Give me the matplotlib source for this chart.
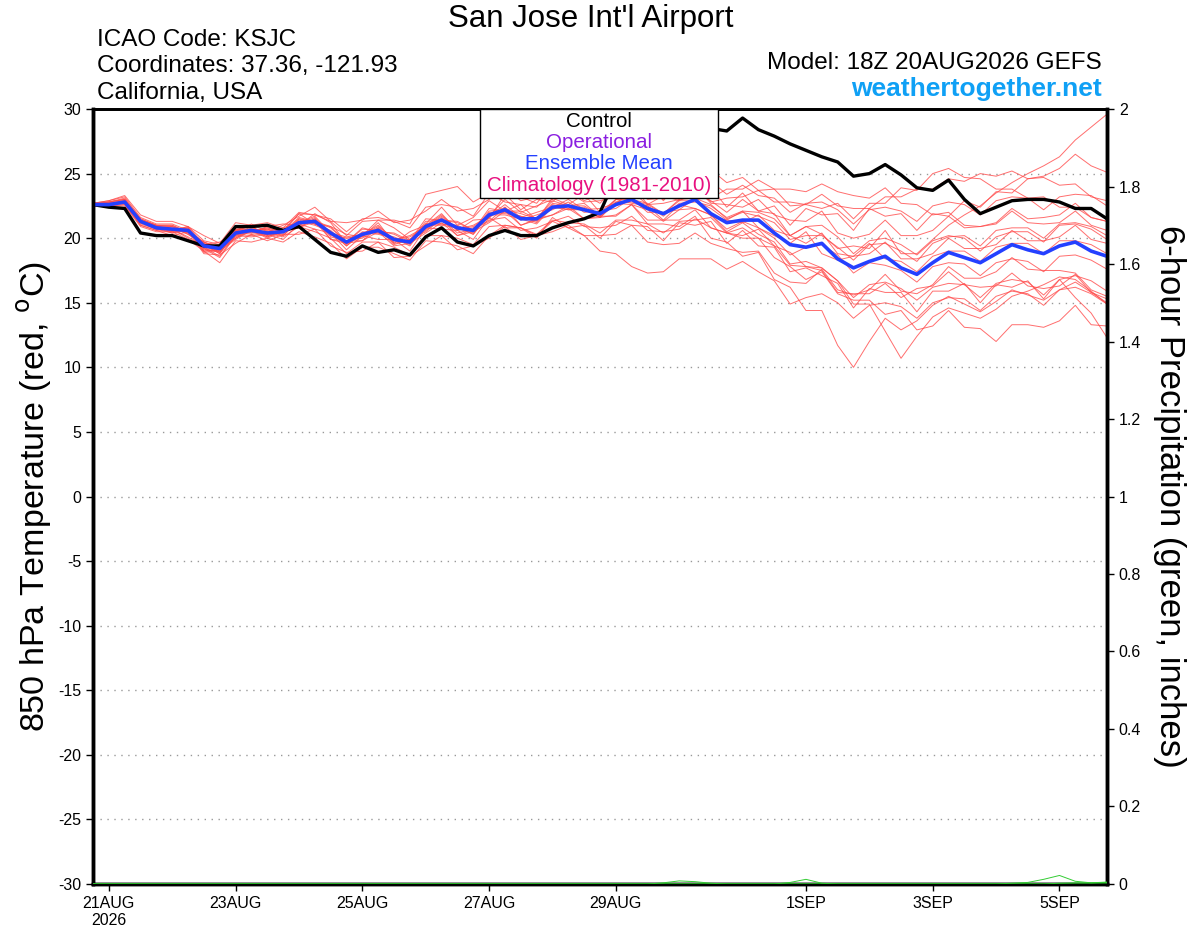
import matplotlib
matplotlib.use("Agg")
from matplotlib import pyplot as plt
from matplotlib.patches import Rectangle
import numpy as np
import pandas as pd

plt.rcParams['font.family'] = ['Liberation Sans', 'DejaVu Sans']

# forecast times, 6-hourly from 18Z 20AUG2026
times = pd.date_range('2026-08-20 18:00', periods=65, freq='6h')

tick_dates = pd.to_datetime(['2026-08-21', '2026-08-23', '2026-08-25', '2026-08-27',
                             '2026-08-29', '2026-09-01', '2026-09-03', '2026-09-05'])
tick_labels = ['21AUG\n2026', '23AUG', '25AUG', '27AUG', '29AUG', '1SEP', '3SEP', '5SEP']

temp_ticks = [30, 25, 20, 15, 10, 5, 0, -5, -10, -15, -20, -25, -30]
precip_ticks = [0, 0.2, 0.4, 0.6, 0.8, 1, 1.2, 1.4, 1.6, 1.8, 2]
precip_labels = ['0', '0.2', '0.4', '0.6', '0.8', '1', '1.2', '1.4', '1.6', '1.8', '2']

# control run (black)
control = [22.6, 22.4, 22.3, 20.4, 20.2, 20.2, 19.8, 19.4, 19.4, 20.9, 20.9, 21.0, 20.6,
           20.9, 19.9, 18.9, 18.6, 19.4, 18.9, 19.1, 18.7, 20.1, 20.8, 19.7, 19.4, 20.2,
           20.6, 20.2, 20.2, 20.8, 21.2, 21.5, 22.0, 24.7, 26.0, 26.8, 27.5, 28.0, 28.4,
           28.5, 28.3, 29.3, 28.4, 27.9, 27.3, 26.8, 26.3, 25.9, 24.8, 25.0, 25.7, 24.9,
           23.9, 23.7, 24.5, 23.0, 21.9, 22.4, 22.9, 23.0, 23.0, 22.8, 22.3, 22.3, 21.5]

# ensemble mean (blue)
ens_mean = [22.6, 22.6, 22.8, 21.3, 20.8, 20.7, 20.6, 19.4, 19.2, 20.4, 20.6, 20.4, 20.5,
            21.2, 21.3, 20.4, 19.7, 20.3, 20.6, 19.9, 19.7, 20.9, 21.4, 20.8, 20.6, 21.8,
            22.2, 21.5, 21.5, 22.4, 22.5, 22.2, 21.9, 22.6, 23.0, 22.3, 21.9, 22.5, 23.0,
            21.9, 21.2, 21.4, 21.4, 20.4, 19.5, 19.3, 19.6, 18.4, 17.7, 18.2, 18.6, 17.7,
            17.2, 18.1, 18.9, 18.5, 18.1, 18.8, 19.5, 19.1, 18.8, 19.4, 19.7, 19.0, 18.6]

# ensemble members (red)
member_01 = [22.6, 22.8, 23.1, 21.5, 21.0, 20.6, 20.9, 19.8, 19.5, 20.9, 20.4, 20.9, 21.1,
             21.0, 21.9, 21.2, 19.6, 20.2, 21.4, 20.8, 19.9, 21.1, 22.4, 21.0, 21.6, 22.9,
             22.1, 22.6, 21.4, 23.1, 22.6, 23.4, 22.0, 23.0, 24.2, 22.6, 23.3, 22.9, 23.5,
             22.9, 22.0, 23.0, 22.1, 21.9, 20.2, 20.9, 20.3, 19.2, 19.4, 19.2, 20.6, 18.8,
             18.8, 19.9, 21.0, 21.8, 22.5, 23.5, 24.3, 25.0, 25.6, 26.3, 27.6, 28.6, 29.6]
member_02 = [22.5, 22.7, 22.9, 21.4, 21.0, 20.9, 20.3, 19.6, 18.9, 20.6, 20.9, 20.2, 20.6,
             21.9, 21.1, 20.9, 20.3, 20.1, 21.2, 19.6, 20.5, 21.0, 21.9, 20.6, 21.4, 21.5,
             23.4, 22.2, 23.0, 22.8, 24.0, 22.9, 23.4, 23.5, 24.6, 24.3, 22.9, 24.3, 24.0,
             23.9, 22.4, 23.5, 22.1, 22.5, 21.0, 22.3, 21.8, 21.9, 20.6, 22.3, 21.7, 21.9,
             20.6, 21.9, 21.7, 22.9, 22.4, 23.6, 23.5, 24.6, 24.8, 25.4, 26.5, 25.6, 25.1]
member_03 = [22.6, 22.5, 22.6, 21.0, 20.6, 20.7, 20.0, 19.2, 18.5, 20.2, 20.1, 20.3, 19.9,
             21.1, 20.7, 20.4, 19.1, 20.2, 19.9, 19.9, 19.0, 20.8, 20.7, 20.6, 19.9, 21.6,
             20.8, 20.8, 20.0, 21.6, 20.8, 21.0, 20.0, 21.3, 21.0, 20.9, 19.8, 21.2, 21.0,
             21.3, 19.6, 20.6, 19.4, 19.3, 17.4, 17.7, 17.1, 16.5, 14.6, 16.1, 15.8, 15.8,
             14.3, 15.9, 15.9, 16.5, 15.0, 16.4, 16.2, 16.7, 15.3, 16.8, 15.4, 14.2, 12.3]
member_04 = [22.5, 22.6, 22.8, 21.2, 20.8, 20.5, 20.7, 19.0, 19.1, 20.0, 20.7, 20.1, 20.6,
             20.8, 21.5, 19.9, 19.8, 19.8, 20.8, 19.5, 19.9, 20.5, 21.5, 20.2, 20.7, 21.3,
             22.4, 21.0, 21.5, 21.8, 22.5, 21.5, 21.7, 21.7, 22.6, 21.1, 21.1, 20.9, 21.7,
             20.0, 19.7, 18.6, 18.9, 16.8, 16.2, 14.4, 14.4, 11.7, 10.0, 12.0, 13.8, 12.9,
             13.6, 14.8, 15.5, 14.9, 14.3, 15.1, 16.0, 15.6, 15.2, 16.0, 16.6, 15.8, 15.0]
member_05 = [22.7, 22.9, 23.2, 21.6, 21.1, 21.1, 20.6, 19.7, 19.3, 20.8, 20.6, 20.8, 20.5,
             21.6, 21.3, 20.9, 19.7, 20.8, 20.5, 20.4, 19.8, 21.5, 21.4, 21.3, 20.6, 22.3,
             22.1, 22.1, 21.5, 22.9, 22.5, 22.7, 21.7, 23.0, 22.7, 22.5, 21.4, 22.6, 22.3,
             21.8, 20.5, 21.2, 20.3, 19.7, 18.0, 18.2, 17.7, 16.7, 14.9, 14.9, 12.8, 10.7,
             12.4, 13.9, 14.6, 14.2, 13.8, 14.5, 15.5, 15.9, 16.4, 17.0, 16.8, 15.9, 14.9]
member_06 = [22.6, 22.7, 22.9, 21.5, 21.0, 21.0, 20.5, 19.7, 19.2, 20.7, 20.5, 20.8, 20.5,
             21.9, 21.8, 21.5, 20.5, 21.5, 21.6, 21.3, 20.8, 22.4, 22.6, 22.4, 21.7, 23.5,
             23.4, 23.2, 22.7, 24.2, 23.9, 24.2, 23.3, 24.6, 24.5, 24.4, 23.6, 24.8, 24.9,
             25.3, 24.3, 24.7, 23.7, 23.8, 22.5, 22.6, 22.3, 22.7, 21.5, 22.7, 22.7, 23.9,
             23.7, 25.0, 25.4, 24.7, 24.6, 23.8, 23.8, 23.1, 23.2, 22.4, 22.4, 21.6, 21.3]
member_07 = [22.5, 22.6, 22.7, 21.3, 20.9, 20.5, 20.8, 19.2, 19.3, 20.2, 20.8, 20.3, 20.7,
             21.1, 21.6, 20.3, 20.0, 20.2, 20.9, 19.9, 20.1, 20.8, 21.7, 20.7, 20.9, 21.7,
             23.0, 22.0, 22.5, 23.0, 23.6, 22.8, 22.9, 23.2, 24.0, 23.0, 23.1, 23.3, 24.2,
             22.8, 23.1, 23.2, 23.7, 22.8, 22.8, 22.6, 23.4, 22.5, 22.3, 22.3, 23.2, 23.2,
             23.8, 23.8, 24.6, 24.4, 25.0, 24.8, 25.2, 24.6, 24.7, 24.1, 24.2, 23.2, 22.9]
member_08 = [22.6, 22.6, 22.7, 21.1, 20.7, 20.7, 20.1, 19.3, 18.6, 20.3, 20.2, 20.4, 20.1,
             20.9, 20.5, 20.0, 18.8, 19.7, 19.7, 19.3, 18.7, 20.2, 20.2, 20.0, 19.5, 20.9,
             21.0, 20.8, 20.3, 21.4, 21.2, 21.1, 20.4, 21.4, 21.4, 21.1, 20.4, 21.3, 21.4,
             21.6, 20.4, 20.8, 20.0, 19.4, 17.9, 17.8, 17.7, 16.7, 15.4, 16.4, 16.6, 16.1,
             15.2, 16.2, 16.5, 16.4, 15.4, 16.5, 16.8, 16.6, 15.6, 16.8, 17.1, 16.7, 15.9]
member_09 = [22.6, 22.7, 22.8, 21.3, 20.8, 20.9, 20.4, 19.5, 18.8, 20.5, 20.4, 20.6, 20.2,
             21.4, 21.1, 20.6, 19.5, 20.5, 20.4, 20.1, 19.6, 21.1, 21.1, 21.0, 20.4, 22.0,
             22.0, 21.7, 21.3, 22.6, 22.3, 22.4, 21.7, 22.8, 22.8, 22.5, 21.7, 22.7, 22.8,
             22.5, 21.6, 22.1, 20.8, 20.2, 19.6, 20.5, 18.8, 18.3, 18.6, 19.6, 18.4, 18.2,
             17.4, 18.6, 19.0, 19.0, 18.2, 19.3, 19.6, 19.6, 18.8, 19.8, 19.8, 19.5, 18.8]
member_10 = [22.7, 22.8, 23.0, 21.4, 20.9, 20.6, 20.9, 19.5, 19.7, 20.5, 21.1, 20.5, 21.0,
             21.7, 22.4, 21.3, 21.2, 21.4, 22.1, 21.2, 21.4, 22.1, 23.0, 22.1, 22.3, 23.0,
             23.9, 22.9, 23.2, 23.6, 24.2, 23.4, 23.5, 23.6, 24.3, 23.2, 23.2, 23.3, 24.0,
             22.7, 22.6, 22.4, 23.0, 21.8, 21.4, 21.3, 22.1, 20.4, 20.0, 20.3, 21.4, 20.2,
             20.2, 20.6, 21.7, 20.8, 20.9, 21.2, 22.3, 21.5, 21.6, 21.8, 22.7, 21.6, 21.3]
member_11 = [22.5, 22.5, 22.6, 21.0, 20.6, 20.2, 20.5, 18.8, 18.7, 19.6, 20.3, 19.8, 20.3,
             20.3, 20.7, 19.4, 18.9, 19.0, 19.7, 18.5, 18.6, 19.4, 20.2, 19.1, 19.4, 20.0,
             20.9, 19.9, 20.2, 20.5, 21.0, 20.2, 20.2, 20.3, 21.0, 19.7, 19.5, 19.6, 20.4,
             19.6, 19.2, 18.9, 19.0, 17.3, 16.6, 16.5, 17.6, 16.0, 15.6, 16.0, 17.2, 15.9,
             15.7, 16.4, 17.8, 16.9, 16.9, 17.4, 18.5, 17.6, 17.5, 17.5, 17.3, 16.0, 15.5]
member_12 = [22.6, 22.8, 23.0, 21.4, 21.0, 21.0, 20.4, 19.7, 19.0, 20.7, 20.5, 20.7, 20.3,
             21.5, 21.3, 20.8, 19.7, 20.7, 20.6, 20.3, 19.7, 21.3, 21.4, 21.2, 20.6, 22.1,
             22.2, 21.9, 21.5, 22.7, 22.5, 22.5, 21.8, 23.0, 23.0, 22.7, 21.9, 23.0, 23.1,
             22.6, 21.5, 22.0, 21.7, 21.2, 19.9, 20.2, 20.2, 19.3, 18.3, 19.5, 19.6, 19.0,
             18.2, 19.6, 20.1, 20.2, 19.4, 20.6, 20.8, 20.8, 20.0, 21.1, 21.2, 20.9, 20.2]
member_13 = [22.6, 22.6, 22.7, 21.2, 20.7, 20.4, 20.6, 19.0, 19.1, 20.0, 20.6, 20.1, 20.5,
             20.9, 21.4, 20.1, 19.8, 20.0, 20.7, 19.6, 19.8, 20.6, 21.5, 20.4, 20.7, 21.4,
             21.6, 20.6, 20.8, 21.3, 21.7, 20.9, 20.8, 21.0, 21.7, 20.6, 20.5, 20.7, 21.5,
             20.8, 20.4, 20.0, 20.0, 18.5, 17.8, 16.8, 17.4, 15.7, 15.2, 15.2, 14.1, 14.4,
             12.9, 13.2, 14.4, 13.1, 13.0, 12.0, 13.3, 13.3, 13.1, 13.6, 14.8, 13.3, 13.2]
member_14 = [22.5, 22.7, 22.9, 21.4, 20.9, 20.9, 20.5, 19.6, 18.9, 20.6, 20.5, 20.7, 20.4,
             21.5, 21.1, 20.5, 19.4, 20.4, 20.4, 20.0, 19.4, 21.0, 21.0, 20.8, 20.3, 21.8,
             21.8, 21.5, 21.1, 22.4, 22.2, 22.2, 21.6, 22.8, 22.9, 22.6, 21.9, 22.9, 22.9,
             22.3, 21.4, 22.1, 22.0, 21.5, 20.2, 20.9, 21.0, 20.1, 18.8, 19.8, 20.0, 19.5,
             18.7, 19.8, 20.2, 20.0, 19.0, 20.1, 20.5, 20.5, 19.7, 21.0, 21.1, 20.7, 19.9]
member_15 = [22.6, 22.7, 22.8, 21.2, 20.8, 20.4, 20.7, 18.9, 19.0, 19.9, 20.6, 20.0, 20.5,
             20.8, 21.3, 19.9, 19.6, 19.8, 20.5, 19.4, 19.6, 20.4, 21.2, 20.2, 20.5, 21.2,
             22.1, 21.0, 21.4, 21.8, 22.3, 21.5, 21.6, 21.8, 22.6, 21.4, 21.4, 21.4, 22.2,
             20.8, 20.4, 20.2, 20.7, 19.4, 18.9, 17.8, 17.5, 15.8, 15.7, 15.7, 16.5, 15.4,
             16.1, 16.3, 17.4, 16.4, 16.2, 16.3, 17.3, 16.3, 16.1, 16.3, 17.2, 15.8, 15.3]
member_16 = [22.7, 22.9, 23.3, 21.8, 21.3, 21.3, 20.9, 20.2, 19.6, 21.2, 21.0, 21.2, 20.8,
             22.0, 21.8, 21.3, 20.2, 21.3, 21.4, 21.4, 21.1, 23.4, 23.7, 24.0, 22.8, 23.5,
             22.8, 22.6, 22.4, 23.5, 23.4, 23.4, 22.7, 24.0, 24.0, 23.7, 23.0, 24.1, 24.4,
             24.4, 23.4, 24.1, 23.3, 23.1, 22.0, 22.7, 22.8, 22.2, 21.1, 22.2, 22.4, 22.1,
             21.3, 22.5, 22.8, 22.6, 21.8, 22.9, 23.2, 23.1, 22.2, 23.2, 23.4, 23.3, 22.5]
member_17 = [22.5, 22.5, 22.5, 20.9, 20.5, 20.5, 19.9, 19.0, 18.1, 19.8, 19.7, 20.0, 19.7,
             20.5, 20.1, 19.6, 18.4, 19.3, 19.3, 18.8, 18.3, 19.8, 19.7, 19.4, 18.8, 20.2,
             21.0, 20.8, 20.2, 21.3, 20.8, 20.2, 19.0, 18.8, 17.8, 17.3, 17.4, 18.4, 18.4,
             18.4, 17.6, 18.2, 17.4, 16.7, 14.9, 15.4, 15.7, 15.0, 13.8, 14.8, 15.0, 14.7,
             13.8, 15.0, 15.4, 15.3, 14.4, 15.5, 15.9, 15.7, 14.8, 16.0, 16.2, 15.7, 14.9]
member_18 = [22.6, 22.8, 23.0, 21.4, 20.9, 20.6, 20.8, 19.3, 19.5, 20.3, 20.9, 20.3, 20.8,
             21.2, 21.7, 20.4, 20.1, 20.3, 21.0, 19.9, 20.2, 20.9, 21.8, 20.7, 21.0, 21.7,
             22.6, 21.6, 22.0, 22.4, 23.0, 22.2, 22.3, 22.7, 23.6, 22.6, 22.7, 23.0, 24.0,
             23.1, 23.8, 23.8, 24.5, 23.8, 23.8, 23.6, 24.2, 23.6, 23.3, 23.1, 23.9, 22.7,
             22.6, 21.8, 22.0, 21.0, 20.9, 21.1, 22.1, 21.2, 21.1, 21.2, 22.1, 21.0, 20.6]
member_19 = [22.6, 22.6, 22.7, 21.2, 20.8, 20.8, 20.3, 19.5, 18.8, 20.5, 20.3, 20.5, 20.2,
             21.3, 21.0, 20.5, 19.4, 20.4, 20.3, 20.0, 19.5, 21.1, 21.1, 20.9, 20.3, 21.9,
             21.9, 21.7, 21.2, 22.5, 22.2, 22.3, 21.6, 22.7, 22.6, 22.2, 21.3, 22.2, 22.3,
             21.8, 20.7, 21.3, 20.8, 20.0, 18.7, 19.3, 19.5, 18.7, 17.3, 18.1, 17.9, 17.5,
             16.6, 17.8, 18.1, 18.0, 17.1, 18.1, 18.4, 18.2, 17.4, 18.6, 18.7, 18.3, 17.6]
member_20 = [22.5, 22.6, 22.8, 21.3, 20.9, 20.6, 20.8, 19.1, 19.2, 20.1, 20.7, 20.2, 20.6,
             21.0, 21.5, 20.2, 20.0, 20.1, 20.8, 19.7, 19.9, 20.7, 21.6, 20.6, 20.8, 21.6,
             22.4, 21.4, 21.8, 22.2, 22.8, 22.0, 22.1, 22.3, 23.1, 22.0, 22.0, 22.2, 23.1,
             21.7, 21.4, 21.2, 21.8, 20.6, 20.2, 19.6, 20.4, 18.8, 18.6, 18.8, 19.7, 18.4,
             18.4, 18.8, 20.0, 19.2, 19.2, 19.5, 20.6, 19.8, 19.8, 20.1, 21.0, 19.9, 19.6]

members = [member_01, member_02, member_03, member_04, member_05, member_06, member_07,
           member_08, member_09, member_10, member_11, member_12, member_13, member_14,
           member_15, member_16, member_17, member_18, member_19, member_20]

# 6-hour precipitation of a few members (green, inches)
precip_a = [0, 0, 0, 0, 0, 0, 0, 0, 0, 0, 0, 0, 0,
            0, 0, 0, 0, 0, 0, 0, 0, 0, 0, 0, 0, 0,
            0, 0, 0, 0, 0, 0, 0, 0, 0, 0, 0.003, 0.008, 0.006,
            0.002, 0, 0, 0, 0, 0, 0, 0, 0, 0, 0, 0, 0,
            0, 0, 0, 0, 0, 0, 0, 0, 0, 0, 0, 0, 0]
precip_b = [0, 0, 0, 0, 0, 0, 0, 0, 0, 0, 0, 0, 0,
            0, 0, 0, 0, 0, 0, 0, 0, 0, 0, 0, 0, 0,
            0, 0, 0, 0, 0, 0, 0, 0, 0, 0, 0, 0, 0,
            0, 0, 0, 0, 0, 0.004, 0.012, 0.002, 0, 0, 0, 0, 0,
            0, 0, 0, 0, 0, 0, 0, 0, 0, 0.002, 0.003, 0.003, 0.004]
precip_c = [0, 0, 0, 0, 0, 0, 0, 0, 0, 0, 0, 0, 0,
            0, 0, 0, 0, 0, 0, 0, 0, 0, 0, 0, 0, 0,
            0, 0, 0, 0, 0, 0, 0, 0, 0, 0, 0, 0, 0,
            0, 0, 0, 0, 0, 0, 0, 0, 0, 0, 0, 0, 0,
            0, 0, 0, 0, 0, 0, 0.002, 0.004, 0.012, 0.022, 0.007, 0.003, 0.005]
precip_series = [precip_a, precip_b, precip_c]

fig = plt.figure(figsize=(12, 9.27), dpi=100)
ax = fig.add_axes([0.0775, 0.0464, 0.845, 0.836])

for m in members:
    ax.plot(times, m, color='#ff4a4a', lw=0.7, alpha=0.8, zorder=2)
ax.plot(times, control, color='black', lw=2.4, zorder=4)
ax.plot(times, ens_mean, color='#2440ff', lw=2.6, zorder=5)

ax.set_xlim(times[0], times[-1])
ax.set_ylim(-30, 30)
ax.set_yticks(temp_ticks)
ax.set_yticklabels([str(t) for t in temp_ticks])
ax.set_xticks(tick_dates)
ax.set_xticklabels(tick_labels)
ax.yaxis.grid(True, linestyle=(0, (1, 4)), color='#999999', lw=1)
ax.tick_params(axis='both', labelsize=11.5, length=5, width=1, direction='out')
ax.set_ylabel('850 hPa Temperature (red, $^{\\rm o}$C)', fontsize=24.5, labelpad=3)

ax2 = ax.twinx()
for p in precip_series:
    ax2.plot(times, p, color='#33cc33', lw=0.7, zorder=3)
ax2.set_ylim(0, 2)
ax2.set_yticks(precip_ticks)
ax2.set_yticklabels(precip_labels)
ax2.tick_params(axis='y', labelsize=11.5, length=5, width=1, direction='out')
ax2.set_ylabel('6-hour Precipitation (green, inches)', fontsize=25, rotation=-90, labelpad=32)

for a in (ax, ax2):
    for side in ('left', 'right', 'bottom'):
        a.spines[side].set_linewidth(2.5)
    a.spines['top'].set_linewidth(2)

# legend box
ax2.add_patch(Rectangle((0.3817, 0.8852), 0.2347, 0.1148, transform=ax2.transAxes,
                        facecolor='white', edgecolor='black', lw=1, zorder=10))
legend_items = [('Control', 'black', 0.9845), ('Operational', '#8a1ee0', 0.9574),
                ('Ensemble Mean', '#2440ff', 0.9303), ('Climatology (1981-2010)', '#e8107f', 0.9019)]
for txt, col, yy in legend_items:
    ax2.text(0.499, yy, txt, color=col, fontsize=14.8, ha='center', va='center',
             transform=ax2.transAxes, zorder=11)

# header texts
fig.text(0.492, 0.980, "San Jose Int'l Airport", fontsize=22.5, ha='center', va='center')
fig.text(0.081, 0.957, 'ICAO Code: KSJC', fontsize=17.5, ha='left', va='center')
fig.text(0.081, 0.929, 'Coordinates: 37.36, -121.93', fontsize=17.5, ha='left', va='center')
fig.text(0.081, 0.900, 'California, USA', fontsize=17.5, ha='left', va='center')
fig.text(0.918, 0.932, 'Model: 18Z 20AUG2026 GEFS', fontsize=17.5, ha='right', va='center')
fig.text(0.918, 0.904, 'weathertogether.net', fontsize=19, ha='right', va='center',
         color='#0fa0f5', fontweight='bold')

fig.savefig('out.png', dpi=100)
